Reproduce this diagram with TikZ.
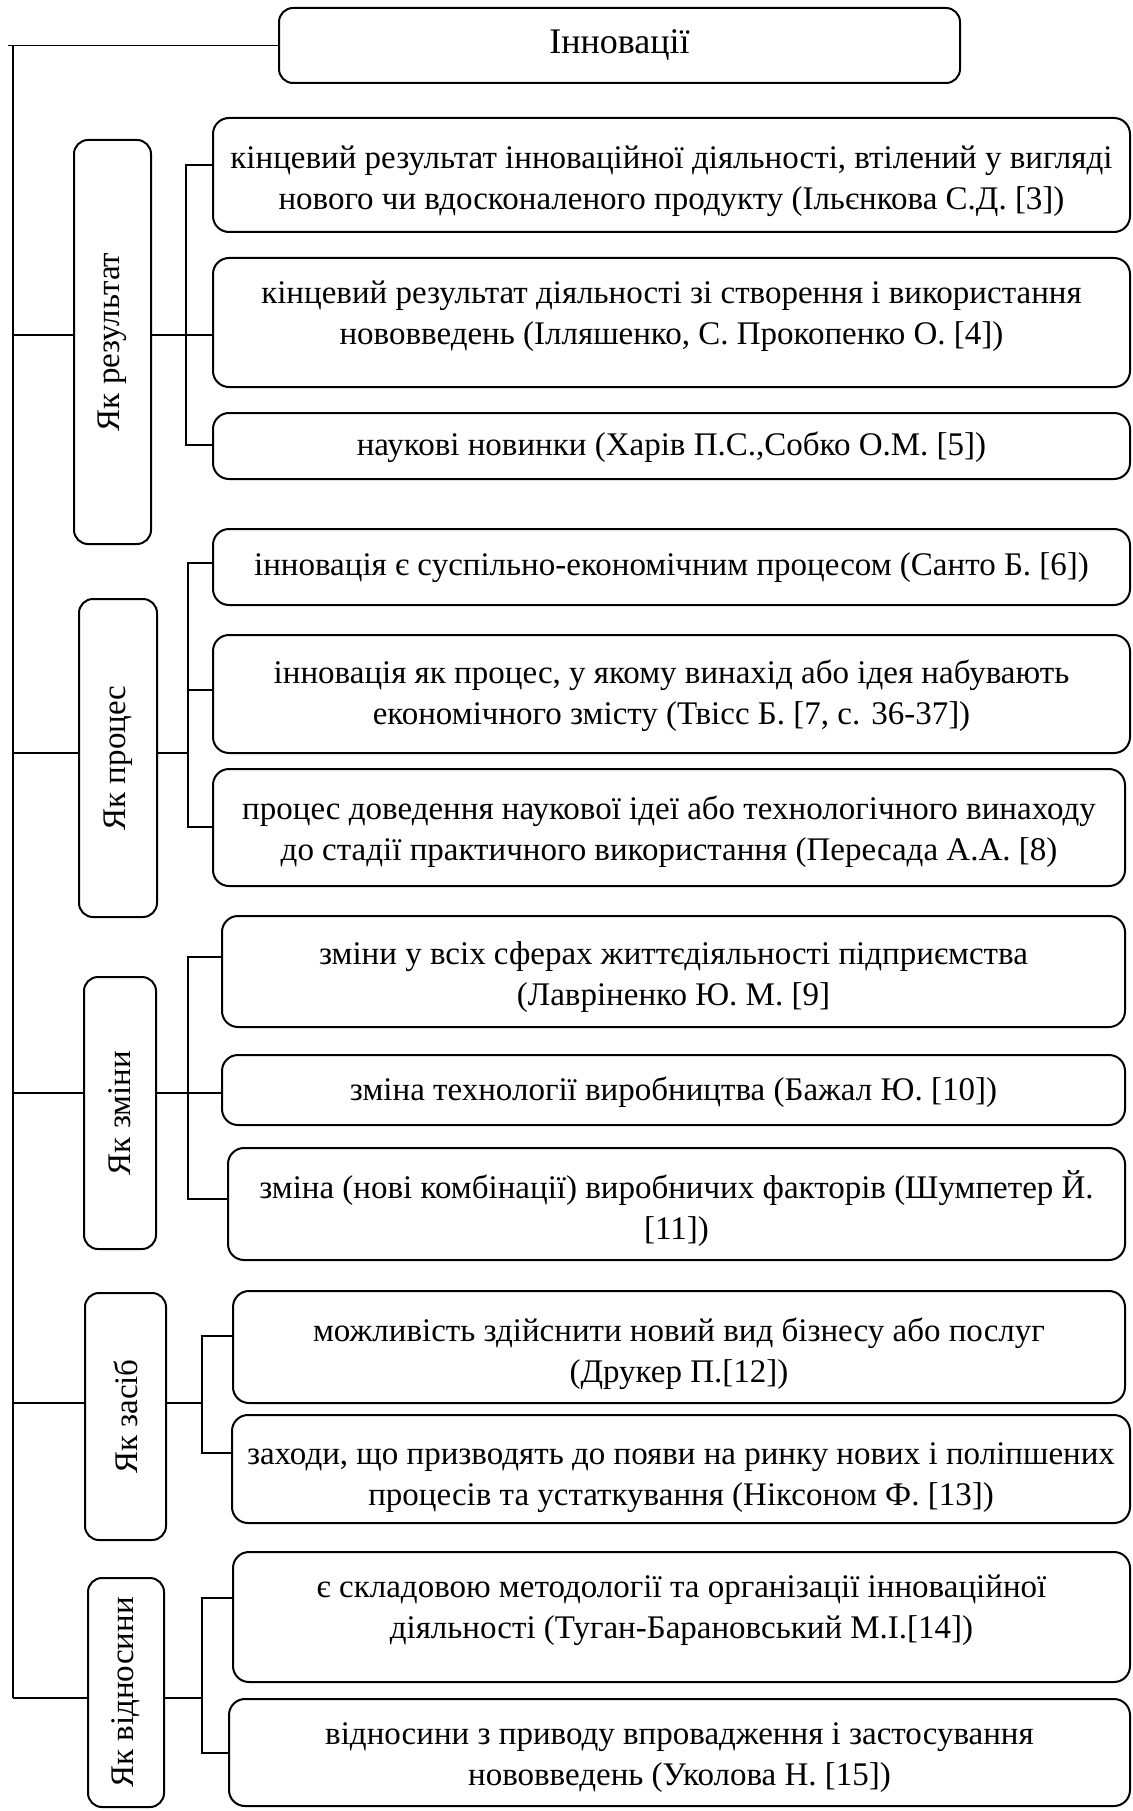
\documentclass[tikz,border=0pt]{standalone}
\usepackage{fontspec}
\setmainfont{Liberation Serif}
\usepackage{graphicx}
\begin{document}
\begin{tikzpicture}[x=1pt,y=-1pt,
  every node/.style={font=\fontsize{33}{41}\selectfont},
  box/.style={draw, line width=2pt, rounded corners=16pt, inner sep=0pt},
  lbl/.style={align=center, inner sep=0pt},
  cat/.style={draw, line width=2pt, rounded corners=14pt, inner sep=0pt},
  conn/.style={line width=1.4pt}]
\useasboundingbox (0,0) rectangle (1132,1811);
% title
\node[box, rounded corners=14pt, minimum width=681pt, minimum height=75pt, font=\fontsize{36}{41}\selectfont] (title) at (619.5,45.5) {Інновації};
% categories
\node[cat, minimum width=77pt, minimum height=404pt] (c1) at (112.5,342) {\rotatebox{90}{Як результат}};
\node[cat, minimum width=78pt, minimum height=318pt] (c2) at (118,758) {\rotatebox{90}{Як процес}};
\node[cat, minimum width=72pt, minimum height=272pt] (c3) at (120,1113) {\rotatebox{90}{Як зміни}};
\node[cat, minimum width=81pt, minimum height=247pt] (c4) at (125.5,1416.5) {\rotatebox{90}{Як засіб}};
\node[cat, minimum width=76pt, minimum height=229pt] (c5) at (126,1692.5) {\rotatebox{90}{Як відносини}};
% sub boxes
\node[box, minimum width=917pt, minimum height=114pt,
  label={[lbl, name=t1a, yshift=-6pt]center:{кінцевий результат інноваційної діяльності, втілений у вигляді\\нового чи вдосконаленого продукту (Ільєнкова С.Д. [3])}}] (s1a) at (671.5,175) {};
\node[box, minimum width=917pt, minimum height=129pt,
  label={[lbl, name=t1b, yshift=6pt]center:{кінцевий результат діяльності зі створення і використання\\нововведень (Ілляшенко, С. Прокопенко О. [4])}}] (s1b) at (671.5,322.5) {};
\node[box, minimum width=917pt, minimum height=66pt,
  label={[lbl, name=t1c, yshift=-1pt]center:{наукові новинки (Харів П.С.,Собко О.М. [5])}}] (s1c) at (671.5,446) {};
\node[box, minimum width=917pt, minimum height=76pt,
  label={[lbl, name=t2a, yshift=-1pt]center:{інновація є суспільно-економічним процесом (Санто Б. [6])}}] (s2a) at (671.5,567) {};
\node[box, minimum width=917pt, minimum height=118pt,
  label={[lbl, name=t2b, yshift=-2pt]center:{інновація як процес, у якому винахід або ідея набувають\\економічного змісту (Твісс Б. [7, с. 36-37])}}] (s2b) at (671.5,694) {};
\node[box, minimum width=912pt, minimum height=117pt,
  label={[lbl, name=t2c, yshift=-4pt]center:{процес доведення наукової ідеї або технологічного винаходу\\до стадії практичного використання (Пересада А.А. [8)}}] (s2c) at (669,827.5) {};
\node[box, minimum width=903pt, minimum height=111pt,
  label={[lbl, name=t3a, yshift=-6pt]center:{зміни у всіх сферах життєдіяльності підприємства\\(Лавріненко Ю. М. [9]}}] (s3a) at (673.5,971.5) {};
\node[box, minimum width=903pt, minimum height=70pt,
  label={[lbl, name=t3b, yshift=-2pt]center:{зміна технології виробництва (Бажал Ю. [10])}}] (s3b) at (673.5,1090) {};
\node[box, minimum width=897pt, minimum height=112pt,
  label={[lbl, name=t3c, yshift=-5pt]center:{зміна (нові комбінації) виробничих факторів (Шумпетер Й.\\{[}11])}}] (s3c) at (676.5,1204) {};
\node[box, minimum width=892pt, minimum height=112pt,
  label={[lbl, name=t4a, yshift=-7pt]center:{можливість здійснити новий вид бізнесу або послуг\\(Друкер П.[12])}}] (s4a) at (679,1347) {};
\node[box, minimum width=898pt, minimum height=108pt,
  label={[lbl, name=t4b, yshift=-9pt]center:{заходи, що призводять до появи на ринку нових і поліпшених\\процесів та устаткування (Ніксоном Ф. [13])}}] (s4b) at (681,1469) {};
\node[box, minimum width=897pt, minimum height=130pt,
  label={[lbl, name=t5a, yshift=7pt]center:{є складовою методології та організації інноваційної\\діяльності (Туган-Барановський М.І.[14])}}] (s5a) at (681.5,1617) {};
\node[box, minimum width=901pt, minimum height=107pt,
  label={[lbl, name=t5b, yshift=-5pt]center:{відносини з приводу впровадження і застосування\\нововведень (Уколова Н. [15])}}] (s5b) at (679.5,1752.5) {};
% main spine
\coordinate (tl) at (8,45.5);
\coordinate (mtop) at (13,45.5);
\coordinate (mbot) at (13,1698);
\draw[conn] (tl) -- (title.west);
\draw[conn] (mtop) -- (mbot);
% junctions on spine
\coordinate (j1) at (13,335);
\coordinate (j2) at (13,753);
\coordinate (j3) at (13,1093);
\coordinate (j4) at (13,1403);
\coordinate (j5) at (13,1698);
\draw[conn] (j1) -- (c1.west |- j1);
\draw[conn] (j2) -- (c2.west |- j2);
\draw[conn] (j3) -- (c3.west |- j3);
\draw[conn] (j4) -- (c4.west |- j4);
\draw[conn] (j5) -- (c5.west |- j5);
% group 1
\coordinate (b1t) at (186,165); \coordinate (b1b) at (186,445);
\draw[conn] (s1a.west |- b1t) -- (b1t) -- (b1b) -- (s1c.west |- b1b);
\draw[conn] (c1.east |- j1) -- (s1b.west |- j1);
% group 2
\coordinate (b2t) at (188,563); \coordinate (b2m) at (188,690); \coordinate (b2b) at (188,827);
\draw[conn] (s2a.west |- b2t) -- (b2t) -- (b2b) -- (s2c.west |- b2b);
\draw[conn] (b2m) -- (s2b.west |- b2m);
\draw[conn] (c2.east |- j2) -- (b2t |- j2);
% group 3
\coordinate (b3t) at (188,957); \coordinate (b3b) at (188,1199);
\draw[conn] (s3a.west |- b3t) -- (b3t) -- (b3b) -- (s3c.west |- b3b);
\draw[conn] (c3.east |- j3) -- (s3b.west |- j3);
% group 4
\coordinate (b4t) at (202,1336); \coordinate (b4b) at (202,1453);
\draw[conn] (s4a.west |- b4t) -- (b4t) -- (b4b) -- (s4b.west |- b4b);
\draw[conn] (c4.east |- j4) -- (b4t |- j4);
% group 5
\coordinate (b5t) at (202,1598); \coordinate (b5b) at (202,1753);
\draw[conn] (s5a.west |- b5t) -- (b5t) -- (b5b) -- (s5b.west |- b5b);
\draw[conn] (c5.east |- j5) -- (b5t |- j5);
\end{tikzpicture}
\end{document}
